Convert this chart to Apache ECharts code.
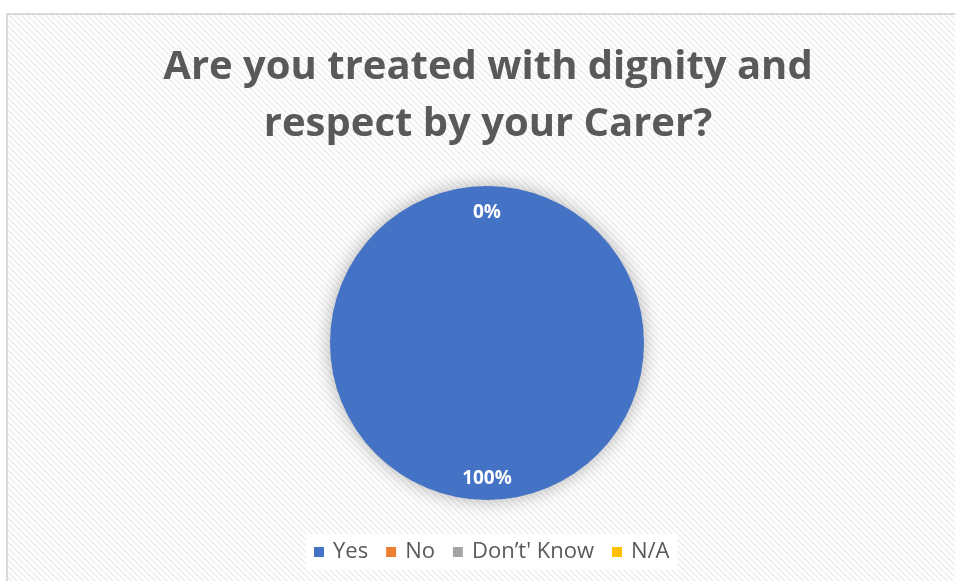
<!DOCTYPE html>
<html>
<head>
<meta charset="utf-8">
<style>
html,body{margin:0;padding:0;background:#fff;}
#chart{width:955px;height:581px;}
</style>
<script src="https://cdn.jsdelivr.net/npm/echarts@6/dist/echarts.min.js"></script>
</head>
<body>
<div id="chart"></div>
<script>
const titleText = 'Are you treated with dignity and\nrespect by your Carer?';
const categories = ['Yes', 'No', 'Don\u2019t\' Know', 'N/A'];
const values = [100, 0, 0, 0];
const colors = ['#4472C4', '#ED7D31', '#A5A5A5', '#FFC000'];

// diagonal hatch pattern
const pc = document.createElement('canvas');
pc.width = 6; pc.height = 6;
const ctx = pc.getContext('2d');
ctx.fillStyle = '#ffffff';
ctx.fillRect(0, 0, 6, 6);
ctx.strokeStyle = '#efefef';
ctx.lineWidth = 1.6;
ctx.beginPath();
ctx.moveTo(-1, -1); ctx.lineTo(7, 7);
ctx.moveTo(-4, 2); ctx.lineTo(4, 10);
ctx.moveTo(2, -4); ctx.lineTo(10, 4);
ctx.stroke();

const data = categories.map((c, i) => ({ name: c, value: values[i], itemStyle: { color: colors[i] } }));

const chart = echarts.init(document.getElementById('chart'), null, { renderer: 'canvas' });
chart.setOption({
  animation: false,
  backgroundColor: '#ffffff',
  graphic: [{
    type: 'rect', z: -10, silent: true,
    shape: { x: 7, y: 14, width: 960, height: 580 },
    style: { fill: { image: pc, repeat: 'repeat' }, stroke: '#d9d9d9', lineWidth: 2 }
  }],
  title: {
    text: titleText,
    left: 483,
    top: 34,
    textAlign: 'center',
    textStyle: { fontFamily: 'Open Sans', fontWeight: 'bold', fontSize: 40, color: '#595959', lineHeight: 57 }
  },
  legend: {
    data: categories,
    bottom: 11,
    left: 306,
    icon: 'rect',
    itemWidth: 10, itemHeight: 10,
    itemGap: 18,
    backgroundColor: '#ffffff',
    padding: [7, 8, 7, 8],
    textStyle: { fontFamily: 'Open Sans', fontSize: 22, color: '#595959', padding: [0, 0, 0, 4] }
  },
  series: [{
    type: 'pie',
    center: [487, 343],
    radius: 157,
    startAngle: 90,
    clockwise: true,
    data: data,
    label: { show: false },
    labelLine: { show: false },
    itemStyle: { shadowBlur: 18, shadowColor: 'rgba(0,0,0,0.3)' },
    silent: true
  }, {
    type: 'pie',
    center: [487, 343],
    radius: [108, 157],
    startAngle: 90,
    clockwise: true,
    data: data.map(d => ({
      name: d.name, value: d.value,
      label: d.value === 0 ? { formatter: '\n{d}%', lineHeight: 10 } : {}
    })),
    itemStyle: { color: 'rgba(0,0,0,0)' },
    label: {
      show: true, position: 'inside', formatter: '{d}%',
      fontFamily: 'Open Sans', fontWeight: 'bold', fontSize: 19, color: '#ffffff'
    },
    labelLine: { show: false },
    silent: true,
    legendHoverLink: false
  }]
});
</script>
</body>
</html>
